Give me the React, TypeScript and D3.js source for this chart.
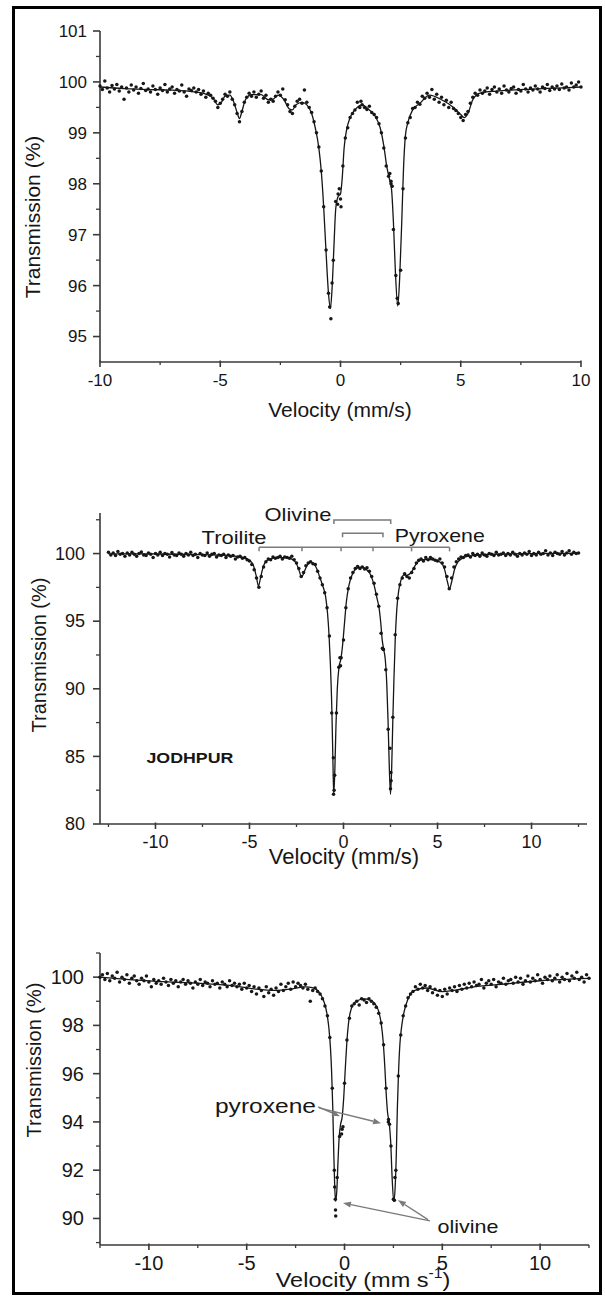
import React from 'react';
import * as d3 from 'd3';

type Pt = [number, number];
const FONT = '"Liberation Sans", Arial, Helvetica, sans-serif';

// ---------------- Panel 1 (top) ----------------
const P1_X_MAJOR = [-10, -5, 0, 5, 10];
const P1_X_MINOR = [-7.5, -2.5, 2.5, 7.5];
const P1_Y_MAJOR = [95, 96, 97, 98, 99, 100, 101];
const P1_Y_MINOR = [95.5, 96.5, 97.5, 98.5, 99.5, 100.5];
const P1_SCAN_START = -10;
const P1_SCAN_STEP = 0.1;
const P1_SCAN = [
  99.92, 99.85, 100.02, 99.88, 99.8, 99.93, 99.86, 99.95, 99.82, 99.9,
  99.66, 99.88, 99.8, 99.94, 99.84, 99.9, 99.78, 99.87, 99.97, 99.83,
  99.86, 99.8, 99.92, 99.85, 99.76, 99.88, 99.83, 99.95, 99.8, 99.86,
  99.9, 99.78, 99.85, 99.82, 99.94, 99.8, 99.72, 99.86, 99.83, 99.88,
  99.8, 99.85, 99.76, 99.82, 99.7, 99.78, 99.74, 99.68, 99.62, 99.5,
  99.58, 99.66, 99.76, 99.72, 99.8, 99.66, 99.55, 99.38, 99.22, 99.42,
  99.6, 99.7, 99.78, 99.72, 99.8, 99.7, 99.76, 99.82, 99.68, 99.74,
  99.6, 99.66, 99.62, 99.72, 99.8, 99.74, 99.86, 99.65, 99.55, 99.42,
  99.38, 99.52, 99.62, 99.66, 99.58, 99.84, 99.6, 99.5, 99.4, 99.22,
  99.0, 98.72, 98.25, 97.55, 96.7, 95.85, 95.35, 96.5, 97.65, 97.8,
  97.7, 98.35, 98.9, 99.1, 99.3, 99.38, 99.45, 99.6, 99.5, 99.55,
  99.5, 99.46, 99.52, 99.4, 99.36, 99.3, 99.18, 99.0, 98.7, 98.35,
  98.15, 98.05, 97.1, 96.2, 95.65, 96.3, 97.9, 98.9, 99.2, 99.3,
  99.48, 99.5, 99.6, 99.56, 99.72, 99.68, 99.78, 99.7, 99.85, 99.66,
  99.76, 99.6, 99.7, 99.55, 99.64, 99.5, 99.6, 99.48, 99.44, 99.38,
  99.3, 99.24, 99.36, 99.42, 99.58, 99.7, 99.78, 99.74, 99.84, 99.78,
  99.82, 99.88, 99.76, 99.85, 99.9, 99.8, 99.86, 99.78, 99.92, 99.84,
  99.8, 99.87, 99.9, 99.78, 99.85, 99.82, 99.95, 99.86, 99.8, 99.88,
  99.84, 99.92, 99.86, 99.8, 99.9, 99.87, 99.95, 99.83, 99.9, 99.86,
  99.92, 99.85, 99.96, 99.88, 99.9, 99.84, 99.98, 99.9, 99.94, 100.0,
  99.9,
];
const P1_EXTRA: Pt[] = [
  [-0.45, 95.58], [-0.35, 96.05], [-0.12, 97.6], [-0.05, 97.9], [0.02, 97.55],
  [2.05, 98.2], [2.1, 98.0], [2.15, 97.95], [2.36, 95.75], [0.85, 99.62],
];
const P1_FIT: Pt[] = [
  [-10, 99.9], [-9, 99.87], [-8, 99.85], [-7, 99.84], [-6, 99.8], [-5.6, 99.76],
  [-5.3, 99.68], [-5.1, 99.55], [-4.95, 99.6], [-4.8, 99.72], [-4.6, 99.74],
  [-4.45, 99.62], [-4.3, 99.4], [-4.2, 99.28], [-4.1, 99.42], [-3.95, 99.65],
  [-3.7, 99.75], [-3.3, 99.75], [-3.0, 99.65], [-2.8, 99.66], [-2.6, 99.74],
  [-2.35, 99.65], [-2.15, 99.48], [-2.0, 99.45], [-1.85, 99.55], [-1.6, 99.6],
  [-1.4, 99.55], [-1.2, 99.38], [-1.05, 99.1], [-0.9, 98.7], [-0.8, 98.25],
  [-0.7, 97.55], [-0.6, 96.65], [-0.5, 95.85], [-0.42, 95.55], [-0.35, 95.95],
  [-0.27, 96.8], [-0.2, 97.5], [-0.1, 97.75], [0.0, 97.8], [0.07, 98.1],
  [0.15, 98.7], [0.25, 99.05], [0.4, 99.3], [0.6, 99.45], [0.9, 99.55],
  [1.2, 99.45], [1.45, 99.32], [1.65, 99.1], [1.8, 98.75], [1.92, 98.35],
  [2.02, 98.12], [2.12, 97.9], [2.2, 97.25], [2.28, 96.3], [2.38, 95.6],
  [2.46, 96.15], [2.55, 97.3], [2.62, 98.3], [2.7, 98.95], [2.8, 99.2],
  [3.0, 99.45], [3.3, 99.58], [3.7, 99.74], [4.2, 99.65], [4.7, 99.5],
  [5.0, 99.36], [5.15, 99.3], [5.3, 99.38], [5.5, 99.65], [5.8, 99.78],
  [6.5, 99.82], [8, 99.86], [9, 99.88], [10, 99.9],
];

// ---------------- Panel 2 (middle, JODHPUR) ----------------
const P2_X_MAJOR = [-10, -5, 0, 5, 10];
const P2_X_MINOR = [-12.5, -7.5, -2.5, 2.5, 7.5, 12.5];
const P2_Y_MAJOR = [80, 85, 90, 95, 100];
const P2_Y_MINOR = [82.5, 87.5, 92.5, 97.5, 102.5];
const P2_SCAN_START = -12.5;
const P2_SCAN_STEP = 0.125;
const P2_SCAN = [
  100.1, 99.9, 100.05, 99.85, 100.15, 99.95, 100.0, 99.8,
  100.05, 99.9, 100.1, 99.95, 99.8, 100.0, 100.12, 99.9,
  99.85, 100.05, 99.95, 99.7, 100.0, 99.9, 100.1, 99.85,
  100.0, 99.95, 99.75, 100.08, 99.9, 99.85, 100.05, 99.95,
  99.8, 100.0, 99.9, 100.1, 99.85, 99.95, 99.7, 100.0,
  99.9, 99.85, 100.05, 99.8, 99.95, 100.0, 99.75, 99.9,
  99.85, 99.95, 99.7, 99.9, 99.8, 99.85, 99.6, 99.75,
  99.8, 99.65, 99.7, 99.55, 99.45, 99.2, 98.8, 98.2,
  97.5, 98.3, 99.0, 99.4, 99.6, 99.55, 99.75, 99.65,
  99.7, 99.8, 99.6, 99.75, 99.7, 99.65, 99.8, 99.55,
  99.3, 98.9, 98.3, 98.6, 99.1, 99.3, 99.4, 99.25,
  99.2, 98.7, 98.2, 97.7, 97.1, 96.0, 93.9, 88.2,
  82.5, 88.2, 91.6, 92.3, 93.6, 96.0, 97.4, 98.2,
  98.6, 98.9, 99.05, 98.9, 99.0, 98.85, 98.95, 98.7,
  98.3, 97.8, 97.0, 96.1, 94.1, 92.9, 91.4, 87.0,
  82.6, 87.9, 94.0, 96.7, 97.7, 98.2, 98.5, 98.3,
  98.2, 98.6, 98.9, 99.3, 99.5, 99.6, 99.45, 99.7,
  99.55, 99.7, 99.6, 99.5, 99.45, 99.6, 99.3, 99.0,
  98.3, 97.4, 98.2, 99.0, 99.4, 99.6, 99.75, 99.7,
  99.85, 99.9, 99.75, 100.0, 99.85, 99.95, 99.8, 100.05,
  99.9, 99.8, 100.0, 99.95, 99.85, 100.1, 99.9, 99.95,
  100.05, 99.85, 100.0, 99.9, 100.1, 99.95, 99.8, 100.0,
  99.9, 100.05, 99.95, 100.15, 99.85, 100.0, 99.9, 100.1,
  99.95, 100.0, 100.2, 99.9, 100.05, 99.85, 100.1, 100.0,
  99.95, 100.15, 99.9, 100.05, 100.2, 99.95, 100.1, 100.0,
  100.05,
];
const P2_EXTRA: Pt[] = [
  [-0.54, 84.9], [-0.53, 82.2], [-0.47, 83.6], [-0.19, 92.3], [-0.16, 91.7],
  [2.47, 85.6], [2.52, 83.8], [2.53, 83.2], [2.07, 93.0], [2.1, 92.95],
];
const P2_FIT: Pt[] = [
  [-12.5, 99.98], [-10, 99.97], [-8, 99.93], [-6.5, 99.88], [-5.5, 99.75], [-5.0, 99.5],
  [-4.8, 99.15], [-4.65, 98.4], [-4.52, 97.6], [-4.4, 98.3], [-4.25, 99.1], [-4.0, 99.55],
  [-3.5, 99.7], [-3.0, 99.7], [-2.7, 99.55], [-2.5, 99.25], [-2.35, 98.7], [-2.23, 98.25],
  [-2.1, 98.6], [-1.95, 99.1], [-1.75, 99.35], [-1.55, 99.2], [-1.4, 98.8], [-1.25, 98.2],
  [-1.1, 97.6], [-0.95, 96.8], [-0.85, 95.6], [-0.77, 94.0], [-0.7, 91.9], [-0.62, 88.5],
  [-0.56, 84.5], [-0.52, 82.2], [-0.46, 84.0], [-0.4, 87.3], [-0.33, 90.0], [-0.24, 91.6],
  [-0.14, 92.2], [-0.05, 93.2], [0.05, 94.8], [0.15, 96.4], [0.28, 97.6], [0.45, 98.4],
  [0.7, 98.9], [0.95, 99.0], [1.2, 98.85], [1.45, 98.4], [1.62, 97.7], [1.78, 96.7],
  [1.9, 95.9], [1.98, 94.9], [2.06, 93.6], [2.14, 92.9], [2.22, 92.2], [2.3, 90.4],
  [2.37, 87.6], [2.43, 84.5], [2.5, 82.2], [2.56, 84.0], [2.62, 87.5], [2.68, 90.6],
  [2.75, 93.6], [2.83, 95.8], [2.93, 97.2], [3.05, 98.0], [3.2, 98.4], [3.4, 98.4],
  [3.6, 98.6], [3.85, 99.2], [4.2, 99.55], [4.8, 99.55], [5.2, 99.3], [5.4, 98.7],
  [5.53, 97.9], [5.64, 97.4], [5.75, 97.9], [5.9, 98.8], [6.1, 99.4], [6.6, 99.8],
  [8, 99.95], [10, 100.0], [12.5, 100.02],
];
const TROILITE_LINES = [-4.49, -2.21, -0.13, 1.57, 3.62, 5.64];
const TROILITE_LEVEL = 100.46;
const OLIVINE_DOUBLET = [-0.51, 2.51];
const OLIVINE_LEVEL = 102.48;
const PYROXENE_DOUBLET = [-0.05, 2.1];
const PYROXENE_LEVEL = 101.5;

// ---------------- Panel 3 (bottom) ----------------
const P3_X_MAJOR = [-10, -5, 0, 5, 10];
const P3_X_MINOR = [-12.5, -7.5, -2.5, 2.5, 7.5, 12.5];
const P3_Y_MAJOR = [90, 92, 94, 96, 98, 100];
const P3_Y_MINOR = [89, 91, 93, 95, 97, 99, 101];
const P3_SCAN_START = -12.5;
const P3_SCAN_STEP = 0.125;
const P3_SCAN = [
  100.0, 100.1, 99.9, 100.15, 99.85, 100.05, 99.95, 100.2,
  99.8, 100.0, 99.9, 100.1, 99.75, 99.95, 100.05, 99.85,
  99.7, 99.95, 99.85, 100.05, 99.8, 99.6, 99.9, 99.75,
  99.85, 99.7, 99.95, 99.8, 99.65, 99.9, 99.75, 99.85,
  99.6, 99.8, 99.9, 99.7, 99.85, 99.75, 99.55, 99.8,
  99.7, 99.9, 99.65, 99.8, 99.75, 99.6, 99.85, 99.7,
  99.75, 99.55, 99.8, 99.7, 99.6, 99.85, 99.65, 99.75,
  99.6, 99.7, 99.5, 99.75, 99.55, 99.65, 99.4, 99.6,
  99.3, 99.55, 99.45, 99.2, 99.6, 99.35, 99.5, 99.25,
  99.55, 99.4, 99.7, 99.45, 99.6, 99.75, 99.5, 99.8,
  99.6, 99.75, 99.65, 99.55, 99.7, 99.5, 99.0, 99.45,
  99.55, 99.4, 99.3, 99.1, 98.8, 98.4, 97.5, 95.4,
  91.3, 91.7, 93.4, 93.7, 95.6, 97.4, 98.3, 98.8,
  98.9, 99.0, 98.85, 99.1, 99.05, 98.95, 99.1, 99.0,
  98.9, 98.75, 98.5, 98.1, 97.2, 95.4, 94.1, 93.0,
  90.8, 92.0, 95.9, 97.6, 98.4, 98.8, 99.15, 99.3,
  99.4, 99.6, 99.5, 99.7, 99.55, 99.65, 99.45, 99.6,
  99.35, 99.5, 99.25, 99.45, 99.2, 99.5, 99.3, 99.55,
  99.45, 99.6, 99.4, 99.65, 99.5, 99.7, 99.55, 99.75,
  99.6, 99.8, 99.65, 99.7, 99.9, 99.55, 99.75, 99.85,
  99.7, 99.9, 99.6, 99.8, 99.75, 99.95, 99.7, 99.85,
  99.9, 99.75, 100.0, 99.8, 99.95, 99.7, 99.85, 100.05,
  99.8, 99.95, 99.85, 100.1, 99.9, 99.75, 100.0, 99.9,
  100.05, 99.85, 99.95, 100.1, 99.8, 100.0, 99.9, 100.15,
  99.85, 100.05, 99.95, 100.2, 99.9, 100.0, 99.8, 100.1,
  99.95,
];
const P3_EXTRA: Pt[] = [
  [-0.46, 90.35], [-0.45, 90.1], [-0.47, 90.8], [-0.52, 92.0], [-0.15, 93.5],
  [-0.08, 93.8], [2.24, 94.0], [2.3, 93.9], [2.55, 90.75], [2.58, 91.7],
];
const P3_FIT: Pt[] = [
  [-12.5, 100.0], [-11, 99.9], [-9, 99.8], [-7, 99.72], [-5.5, 99.62], [-4.5, 99.5],
  [-3.5, 99.45], [-2.8, 99.5], [-2.0, 99.6], [-1.6, 99.55], [-1.34, 99.42], [-1.08, 99.05],
  [-0.9, 98.5], [-0.8, 97.9], [-0.72, 97.1], [-0.66, 96.1], [-0.6, 94.6], [-0.55, 92.8],
  [-0.5, 91.3], [-0.45, 90.7], [-0.39, 91.2], [-0.33, 92.4], [-0.27, 93.4], [-0.2, 93.9],
  [-0.12, 94.2], [-0.04, 95.0], [0.04, 96.2], [0.12, 97.3], [0.2, 98.05], [0.35, 98.7],
  [0.6, 99.0], [1.0, 99.1], [1.3, 99.05], [1.55, 98.9], [1.74, 98.6], [1.88, 98.05],
  [1.98, 97.3], [2.06, 96.3], [2.13, 95.2], [2.2, 94.4], [2.28, 94.0], [2.36, 93.2],
  [2.44, 91.6], [2.52, 90.7], [2.59, 91.3], [2.65, 92.7], [2.7, 94.5], [2.76, 96.0],
  [2.83, 97.2], [2.93, 98.0], [3.03, 98.5], [3.25, 99.1], [3.6, 99.45], [4.2, 99.55],
  [5.0, 99.4], [5.6, 99.45], [6.5, 99.58], [8, 99.7], [10, 99.85], [12.5, 99.95],
];
const PYROXENE_ARROWS: [Pt, Pt][] = [
  [[-1.35, 94.62], [-0.23, 94.24]],
  [[-1.3, 94.58], [1.87, 93.95]],
];
const OLIVINE_ARROWS: [Pt, Pt][] = [
  [[4.37, 89.9], [-0.08, 90.64]],
  [[4.27, 89.95], [2.73, 90.76]],
];

// ---------------- scales (layout) ----------------
const x1 = d3.scaleLinear().domain([-10, 10]).range([100, 581]);
const y1 = d3.scaleLinear().domain([94.5, 101]).range([362, 31]);
const x2 = d3.scaleLinear().domain([-12.95, 12.95]).range([100, 587]);
const y2 = d3.scaleLinear().domain([80, 103]).range([824, 513]);
const x3 = d3.scaleLinear().domain([-12.5, 12.5]).range([100, 589]);
const y3 = d3.scaleLinear().domain([88.9, 101]).range([1245, 953]);

const INK = '#161616';
const AXIS = '#3a3a3a';
const ANNO = '#7a7a7a';

function Txt(props: any) {
  const { x, y, children, size, anchor = 'middle', weight = 400, width, rotate, fill = INK } = props;
  const dy = size * 0.35;
  return (
    <text
      x={x}
      y={y + dy}
      fontSize={size}
      fontFamily={FONT}
      fontWeight={weight}
      textAnchor={anchor}
      fill={fill}
      transform={rotate ? `rotate(${rotate} ${x} ${y})` : undefined}
      textLength={width}
      lengthAdjust={width ? 'spacingAndGlyphs' : undefined}
    >
      {children}
    </text>
  );
}

function Axes(props: any) {
  const { xs, ys, xMajor, xMinor, yMajor, yMinor, fs, xLabOff, yLabOff } = props;
  const [xa, xb] = xs.range();
  const [yb, yt] = ys.range();
  return (
    <g>
      <g stroke={AXIS} strokeWidth={1.6}>
        <line x1={xa} x2={xb} y1={yb} y2={yb} />
        <line x1={xa} x2={xa} y1={yb} y2={yt} />
        {xMajor.map((v: number) => (
          <line key={'xM' + v} x1={xs(v)} x2={xs(v)} y1={yb - 1.5} y2={yb + 5} />
        ))}
        {xMinor.map((v: number) => (
          <line key={'xm' + v} x1={xs(v)} x2={xs(v)} y1={yb} y2={yb + 3} strokeWidth={1.3} />
        ))}
        {yMajor.map((v: number) => (
          <line key={'yM' + v} x1={xa - 7} x2={xa} y1={ys(v)} y2={ys(v)} />
        ))}
        {yMinor.map((v: number) => (
          <line key={'ym' + v} x1={xa - 4} x2={xa} y1={ys(v)} y2={ys(v)} strokeWidth={1.3} />
        ))}
      </g>
      {xMajor.map((v: number) => (
        <Txt key={'xl' + v} x={xs(v)} y={yb + xLabOff} size={fs}>{String(v)}</Txt>
      ))}
      {yMajor.map((v: number) => (
        <Txt key={'yl' + v} x={xa - yLabOff} y={ys(v)} size={fs} anchor="end">{String(v)}</Txt>
      ))}
    </g>
  );
}

function Spectrum(props: any) {
  const { xs, ys, start, step, scan, extra, fit } = props;
  const pts: Pt[] = scan.map((t: number, i: number) => [start + i * step, t] as Pt).concat(extra);
  const line = d3.line<Pt>().x((d) => xs(d[0])).y((d) => ys(d[1])).curve(d3.curveMonotoneX);
  return (
    <g>
      <path d={line(fit) || ''} fill="none" stroke={INK} strokeWidth={1.3} />
      {pts.map((p, i) => (
        <circle key={i} cx={xs(p[0])} cy={ys(p[1])} r={1.75} fill={INK} />
      ))}
    </g>
  );
}

function Arrow(props: any) {
  const { xs, ys, from, to } = props;
  const ax = xs(from[0]), ay = ys(from[1]);
  const bx = xs(to[0]), by = ys(to[1]);
  const ang = Math.atan2(by - ay, bx - ax);
  const L = 8, Wd = 3;
  const hx = bx - L * Math.cos(ang), hy = by - L * Math.sin(ang);
  const p1 = [hx + Wd * Math.sin(ang), hy - Wd * Math.cos(ang)];
  const p2 = [hx - Wd * Math.sin(ang), hy + Wd * Math.cos(ang)];
  return (
    <g>
      <line x1={ax} y1={ay} x2={hx} y2={hy} stroke={ANNO} strokeWidth={1.4} />
      <polygon points={`${bx},${by} ${p1[0]},${p1[1]} ${p2[0]},${p2[1]}`} fill={ANNO} />
    </g>
  );
}

export default function App() {
  const trY = y2(TROILITE_LEVEL);
  const olY = y2(OLIVINE_LEVEL);
  const pyY = y2(PYROXENE_LEVEL);
  return (
    <svg
      width={605}
      height={1296}
      viewBox="0 0 605 1296"
      style={{ position: 'absolute', left: 0, top: 0, background: '#fff' }}
    >
      <rect x={0} y={0} width={605} height={1296} fill="#fff" />
      <rect x={13.5} y={7.5} width={587} height={1286} fill="none" stroke="#000" strokeWidth={3} />

      {/* Panel 1 */}
      <Axes xs={x1} ys={y1} xMajor={P1_X_MAJOR} xMinor={P1_X_MINOR} yMajor={P1_Y_MAJOR}
        yMinor={P1_Y_MINOR} fs={17} xLabOff={18} yLabOff={13} />
      <Spectrum xs={x1} ys={y1} start={P1_SCAN_START} step={P1_SCAN_STEP} scan={P1_SCAN}
        extra={P1_EXTRA} fit={P1_FIT} />
      <Txt x={340} y={410} size={21}>Velocity (mm/s)</Txt>
      <Txt x={33} y={217} size={21} rotate={-90}>Transmission (%)</Txt>

      {/* Panel 2 */}
      <Axes xs={x2} ys={y2} xMajor={P2_X_MAJOR} xMinor={P2_X_MINOR} yMajor={P2_Y_MAJOR}
        yMinor={P2_Y_MINOR} fs={18} xLabOff={18} yLabOff={15} />
      <Spectrum xs={x2} ys={y2} start={P2_SCAN_START} step={P2_SCAN_STEP} scan={P2_SCAN}
        extra={P2_EXTRA} fit={P2_FIT} />
      <g stroke={ANNO} strokeWidth={1.5} fill="none">
        <line x1={x2(TROILITE_LINES[0])} x2={x2(TROILITE_LINES[TROILITE_LINES.length - 1])} y1={trY} y2={trY} />
        {TROILITE_LINES.map((v) => (
          <line key={'tr' + v} x1={x2(v)} x2={x2(v)} y1={trY} y2={trY + 4} />
        ))}
        <path d={`M${x2(OLIVINE_DOUBLET[0])},${olY + 4}V${olY}H${x2(OLIVINE_DOUBLET[1])}V${olY + 4}`} />
        <path d={`M${x2(PYROXENE_DOUBLET[0])},${pyY + 4}V${pyY}H${x2(PYROXENE_DOUBLET[1])}V${pyY + 4}`} />
      </g>
      <Txt x={x2(-2.42)} y={y2(102.93)} size={19} width={67}>Olivine</Txt>
      <Txt x={x2(-5.82)} y={y2(101.17)} size={19} width={65}>Troilite</Txt>
      <Txt x={x2(5.12)} y={y2(101.37)} size={19} width={90}>Pyroxene</Txt>
      <Txt x={x2(-10.48)} y={y2(84.88)} size={15} weight={700} anchor="start" width={87}>JODHPUR</Txt>
      <Txt x={344} y={856} size={22}>Velocity (mm/s)</Txt>
      <Txt x={39} y={655} size={20} rotate={-90}>Transmission (%)</Txt>

      {/* Panel 3 */}
      <Axes xs={x3} ys={y3} xMajor={P3_X_MAJOR} xMinor={P3_X_MINOR} yMajor={P3_Y_MAJOR}
        yMinor={P3_Y_MINOR} fs={20} xLabOff={18} yLabOff={16} />
      <Spectrum xs={x3} ys={y3} start={P3_SCAN_START} step={P3_SCAN_STEP} scan={P3_SCAN}
        extra={P3_EXTRA} fit={P3_FIT} />
      {PYROXENE_ARROWS.map((a, i) => (
        <Arrow key={'pa' + i} xs={x3} ys={y3} from={a[0]} to={a[1]} />
      ))}
      {OLIVINE_ARROWS.map((a, i) => (
        <Arrow key={'oa' + i} xs={x3} ys={y3} from={a[0]} to={a[1]} />
      ))}
      <Txt x={x3(-4.04)} y={y3(94.66)} size={20} width={101}>pyroxene</Txt>
      <Txt x={x3(6.31)} y={y3(89.69)} size={19} width={61}>olivine</Txt>
      <g transform="translate(363,1287) scale(1.12,1)">
        <text x={0} y={0} fontSize={21} fontFamily={FONT} textAnchor="middle" fill={INK}>
          Velocity (mm s
          <tspan dy={-9} fontSize={14}>-1</tspan>
          <tspan dy={9}>)</tspan>
        </text>
      </g>
      <Txt x={34} y={1060} size={20} rotate={-90}>Transmission (%)</Txt>
    </svg>
  );
}
